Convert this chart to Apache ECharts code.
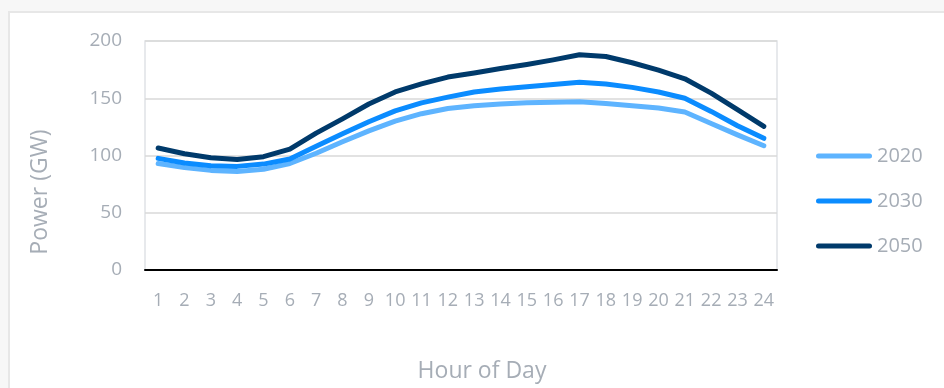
<!DOCTYPE html>
<html>
<head>
<meta charset="utf-8">
<script src="https://cdn.jsdelivr.net/npm/echarts@6/dist/echarts.min.js"></script>
<style>
  html, body { margin: 0; padding: 0; width: 944px; height: 388px; background: #f7f7f7; overflow: hidden; }
  #card { position: absolute; left: 8px; top: 11px; right: 0; bottom: 0; background: #fff;
          border-top: 2px solid #e7e7e7; border-left: 2px solid #e7e7e7; }
  #chart { position: absolute; left: 0; top: 0; width: 944px; height: 388px; }
</style>
</head>
<body>
<div id="card"></div>
<div id="chart"></div>
<script>
// Hourly power demand profile (GW) for three scenario years
const hours = ['1','2','3','4','5','6','7','8','9','10','11','12','13','14','15','16','17','18','19','20','21','22','23','24'];
const yTicks = [0, 50, 100, 150, 200];
const seriesNames = ['2020', '2030', '2050'];
const y2020 = [93, 89.5, 87, 86, 88, 93, 102, 112, 121.5, 130, 136.5, 141, 143.5, 145, 146, 146.5, 147, 145.5, 143.5, 141.5, 138, 128, 118, 108.5];
const y2030 = [97.5, 93.5, 91, 90.5, 92.5, 97, 108, 119, 129.5, 139, 146, 151, 155.5, 158, 160, 162, 164, 162.5, 159.5, 155.5, 150, 138.5, 126, 115];
const y2050 = [106.5, 101.5, 98, 96.5, 99, 105.5, 119.5, 132, 145, 155.5, 162.5, 168.5, 172, 176, 179.5, 183.5, 188, 186.5, 181, 174.5, 167, 154.5, 140, 125.5];

const colors = ['#5eb4ff', '#0b8cff', '#003a6b'];
const textColor = '#a6adb6';
const fontFamily = '"Open Sans", Lato, sans-serif';

const chart = echarts.init(document.getElementById('chart'), null, { renderer: 'canvas' });

const lineSeries = [y2020, y2030, y2050].map((vals, i) => ({
  name: seriesNames[i],
  type: 'line',
  data: vals,
  symbol: 'none',
  smooth: false,
  silent: true,
  z: 2 + i,
  lineStyle: { color: colors[i], width: 5, cap: 'round', join: 'round' },
  itemStyle: { color: colors[i] }
}));

chart.setOption({
  backgroundColor: 'transparent',
  animation: false,
  color: colors,
  grid: {
    left: 145, top: 41, right: 167, bottom: 118,
    show: true, borderColor: '#dfe2e6', borderWidth: 1.5, backgroundColor: 'transparent'
  },
  xAxis: {
    type: 'category',
    data: hours,
    boundaryGap: true,
    axisLine: { show: true, lineStyle: { color: '#000', width: 2 } },
    axisTick: { show: false },
    axisLabel: { interval: 0, margin: 22, color: textColor, fontSize: 18, fontFamily: fontFamily },
    splitLine: { show: false }
  },
  yAxis: {
    type: 'value',
    min: yTicks[0],
    max: yTicks[yTicks.length - 1],
    interval: yTicks[1] - yTicks[0],
    axisLine: { show: false },
    axisTick: { show: false },
    axisLabel: { margin: 23, color: textColor, fontSize: 19, fontFamily: fontFamily },
    splitLine: { show: true, lineStyle: { color: '#d9d9d9', width: 1.5 } }
  },
  legend: {
    orient: 'vertical',
    left: 816,
    top: 145,
    padding: 0,
    itemWidth: 56,
    itemHeight: 5,
    itemGap: 23,
    selectedMode: false,
    icon: 'path://M2.5,0 H53.5 A2.5,2.5 0 0 1 53.5,5 H2.5 A2.5,2.5 0 0 1 2.5,0 Z',
    textStyle: { color: textColor, fontSize: 20, fontFamily: fontFamily, lineHeight: 22 },
    data: seriesNames
  },
  graphic: [
    {
      type: 'text',
      x: 40, y: 192,
      rotation: Math.PI / 2,
      style: { text: 'Power (GW)', fill: textColor, fontSize: 23, fontFamily: fontFamily,
               align: 'center', verticalAlign: 'middle' }
    },
    {
      type: 'text',
      x: 482, y: 371,
      style: { text: 'Hour of Day', fill: textColor, fontSize: 23, fontFamily: fontFamily,
               align: 'center', verticalAlign: 'middle' }
    }
  ],
  series: lineSeries
});
</script>
</body>
</html>
